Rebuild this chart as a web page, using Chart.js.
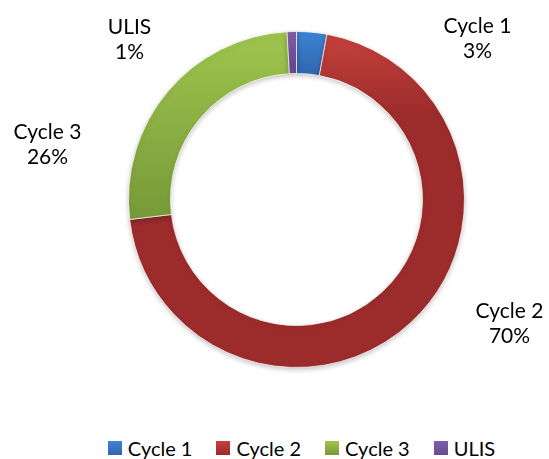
<!DOCTYPE html>
<html>
<head>
<meta charset="utf-8">
<script src="https://cdn.jsdelivr.net/npm/chart.js@4.4.0/dist/chart.umd.min.js"></script>
<style>
    body { margin: 0; background: #fff; }
    #wrap { position: relative; width: 549px; height: 459px; font-family: Lato, 'Open Sans', sans-serif; color: #000; }
    #chartBox { position: absolute; left: 0; top: 0; width: 549px; height: 399px; }
    #legend { position: absolute; left: 54px; right: 0; top: 436px; display: flex; justify-content: center; align-items: center; font-size: 20px; }
    #legend .item { display: flex; align-items: center; margin: 0 12px; }
    #legend .box { width: 14px; height: 14px; margin-right: 6px; }
</style>
</head>
<body>
<div id="wrap">
    <div id="chartBox"><canvas id="cycleChart"></canvas></div>
    <div id="legend"></div>
</div>
<script>
// Data
const categories = ['Cycle 1', 'Cycle 2', 'Cycle 3', 'ULIS'];
const shares = [2.9, 70.2, 26.0, 0.9];

// Styles (top and bottom of each segment's gradient)
const lightColors = ['#3f83d6', '#c6413d', '#9fc54e', '#8060a8'];
const darkColors = ['#3066ad', '#9b2c2b', '#779938', '#6a4a90'];
const gradientSpan = [0.13, 0.25, 0.56, 0.1];
const outerRadius = 168;

// Where Excel put each data label, relative to the ring centre
const labelOffsets = [[181, -167], [213, 118], [-249, -61], [-167, -166]];

function segmentFill(context) {
    const i = context.dataIndex;
    const area = context.chart.chartArea;
    if (!area) {
        return lightColors[i];
    }
    const cy = (area.top + area.bottom) / 2;
    const top = cy - outerRadius;
    const g = context.chart.ctx.createLinearGradient(0, top, 0, top + 2 * outerRadius * gradientSpan[i]);
    g.addColorStop(0, lightColors[i]);
    g.addColorStop(1, darkColors[i]);
    return g;
}

// Soft shadow under the ring
const ringShadow = {
    id: 'ringShadow',
    beforeDatasetsDraw(chart) {
        const ctx = chart.ctx;
        ctx.save();
        ctx.shadowColor = 'rgba(0, 0, 0, 0.22)';
        ctx.shadowBlur = 5;
        ctx.shadowOffsetY = 2;
    },
    afterDatasetsDraw(chart) {
        chart.ctx.restore();
    }
};

// Two-line outside labels: name and rounded percent
const outsideLabels = {
    id: 'outsideLabels',
    afterDraw(chart) {
        const meta = chart.getDatasetMeta(0);
        if (!meta.data.length) return;
        const cx = meta.data[0].x;
        const cy = meta.data[0].y;
        const total = shares.reduce((a, b) => a + b, 0);
        const ctx = chart.ctx;
        ctx.save();
        ctx.font = '21px Lato, "Open Sans", sans-serif';
        ctx.fillStyle = '#000';
        ctx.textAlign = 'center';
        ctx.textBaseline = 'alphabetic';
        categories.forEach((name, i) => {
            const x = cx + labelOffsets[i][0];
            const y = cy + labelOffsets[i][1];
            const pct = Math.round(shares[i] / total * 100) + '%';
            ctx.fillText(name, x, y);
            ctx.fillText(pct, x, y + 25);
        });
        ctx.restore();
    }
};

const chart = new Chart(document.getElementById('cycleChart').getContext('2d'), {
    type: 'doughnut',
    data: {
        labels: categories,
        datasets: [{
            data: shares,
            backgroundColor: segmentFill,
            borderColor: 'rgba(255, 255, 255, 0.7)',
            borderWidth: 1
        }]
    },
    options: {
        responsive: true,
        maintainAspectRatio: false,
        animation: false,
        cutout: '75%',
        radius: outerRadius,
        layout: {
            padding: { left: 44 }
        },
        plugins: {
            legend: { display: false },
            tooltip: { enabled: false }
        }
    },
    plugins: [ringShadow, outsideLabels]
});

// HTML legend below the canvas
const legendEl = document.getElementById('legend');
categories.forEach((name, i) => {
    const item = document.createElement('div');
    item.className = 'item';
    item.innerHTML = `<span class="box" style="background: linear-gradient(${lightColors[i]}, ${darkColors[i]})"></span><span>${name}</span>`;
    legendEl.appendChild(item);
});
</script>
</body>
</html>
